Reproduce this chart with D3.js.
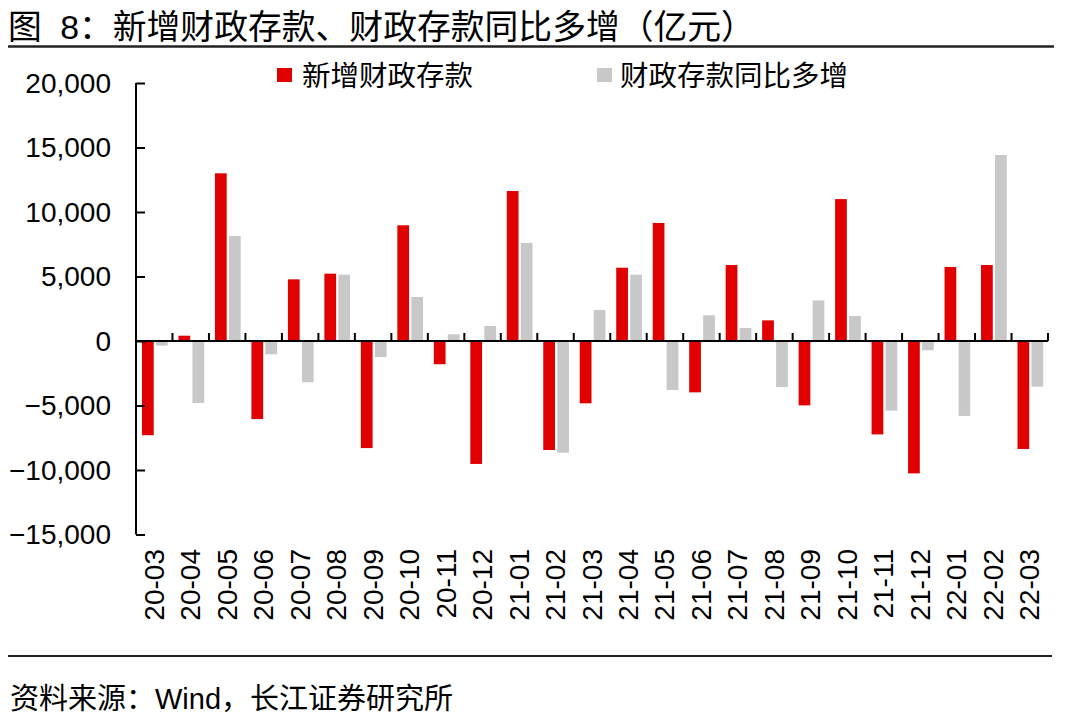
<!DOCTYPE html>
<html><head><meta charset="utf-8">
<script src="https://cdn.jsdelivr.net/npm/d3@7/dist/d3.min.js"></script>
<style>
html,body{margin:0;padding:0;background:#fff;}
svg{display:block;}
text{font-family:"Liberation Sans","Noto Sans CJK SC",sans-serif;fill:#000;}
</style></head>
<body>
<svg id="chart" width="1066" height="728"></svg>
<script>
const categories = ["20-03","20-04","20-05","20-06","20-07","20-08","20-09","20-10","20-11","20-12",
  "21-01","21-02","21-03","21-04","21-05","21-06","21-07","21-08","21-09","21-10","21-11","21-12",
  "22-01","22-02","22-03"];
const newFiscalDeposits = [-7300,410,13000,-6050,4780,5220,-8300,8970,-1800,-9530,
  11630,-8450,-4830,5680,9150,-3980,5890,1600,-4990,11000,-7240,-10260,
  5740,5890,-8370];
const yoyIncrease = [-360,-4800,8140,-1030,-3200,5140,-1240,3410,520,1160,
  7600,-8660,2400,5140,-3800,1990,1010,-3570,3150,1940,-5400,-720,
  -5810,14420,-3540];
const seriesNames = ["新增财政存款","财政存款同比多增"];
const yTicks = [20000,15000,10000,5000,0,-5000,-10000,-15000];
const titleText = "图 8：新增财政存款、财政存款同比多增（亿元）";
const sourceText = "资料来源：Wind，长江证券研究所";

const colors = ["#e00000","#c8c8c8"];
const svg = d3.select("#chart");

const pLeft = 136, pRight = 1048, pTop = 83, pBottom = 534.5;
const x = d3.scaleBand().domain(categories).range([pLeft, pRight]).paddingInner(0).paddingOuter(0);
const xs = d3.scaleBand().domain(seriesNames)
  .range([x.bandwidth()*0.164, x.bandwidth()*0.869]).paddingInner(0.16);
const y = d3.scaleLinear().domain([-15000, 20000]).range([pBottom, pTop]);

// title
const t = svg.append("text").attr("x", 8).attr("y", 39)
  .style("font-size","33.8px").style("white-space","pre");
t.append("tspan").text("图");
t.append("tspan").attr("dx", 9).text(titleText.slice(1));
svg.append("line").attr("x1",8).attr("x2",1054).attr("y1",46.5).attr("y2",46.5)
  .attr("stroke","#222").attr("stroke-width",2.5);

// bars
const data = categories.map((c,i)=>({c, vals:[newFiscalDeposits[i], yoyIncrease[i]]}));
const g = svg.append("g");
data.forEach(d=>{
  d.vals.forEach((v,j)=>{
    g.append("rect")
      .attr("x", x(d.c) + xs(seriesNames[j]))
      .attr("width", xs.bandwidth())
      .attr("y", y(Math.max(0,v)))
      .attr("height", Math.abs(y(v)-y(0)))
      .attr("fill", colors[j]);
  });
});

// y axis
const yAxis = d3.axisRight(y).tickValues(yTicks).tickSize(9).tickFormat("");
const ya = svg.append("g").attr("transform",`translate(${pLeft},0)`).call(yAxis);
ya.select(".domain").attr("stroke","#000").attr("stroke-width",2).attr("d",`M0,${pTop}V${pBottom}`);
ya.selectAll(".tick line").attr("stroke","#000").attr("stroke-width",2);
svg.append("g").selectAll("text").data(yTicks).join("text")
  .attr("x", 111).attr("y", d=>y(d)).attr("text-anchor","end")
  .attr("dominant-baseline","central").style("font-size","28px")
  .text(d=>d3.format(",")(d));

// x axis at zero
const boundaries = categories.map(c=>x(c)).concat([pRight]);
const xa = svg.append("g");
xa.append("line").attr("x1",pLeft).attr("x2",pRight).attr("y1",y(0)).attr("y2",y(0))
  .attr("stroke","#000").attr("stroke-width",2.2);
xa.selectAll("line.tk").data(boundaries).join("line").attr("class","tk")
  .attr("x1",d=>d).attr("x2",d=>d).attr("y1",y(0)).attr("y2",y(0)-8)
  .attr("stroke","#000").attr("stroke-width",2);
svg.append("g").selectAll("text").data(categories).join("text")
  .attr("transform", d=>`translate(${x(d)+x.bandwidth()/2},549) rotate(-90)`)
  .attr("text-anchor","end").attr("dominant-baseline","central")
  .style("font-size","28px").text(d=>d);

// legend
const legendX = [[277,302],[597,620]];
seriesNames.forEach((n,j)=>{
  svg.append("rect").attr("x",legendX[j][0]).attr("y",68).attr("width",15).attr("height",14).attr("fill",colors[j]);
  svg.append("text").attr("x",legendX[j][1]).attr("y",76).attr("dominant-baseline","central")
    .style("font-size","28.5px").text(n);
});

// bottom line and source
svg.append("line").attr("x1",8).attr("x2",1052).attr("y1",656).attr("y2",656)
  .attr("stroke","#222").attr("stroke-width",2);
svg.append("text").attr("x",10).attr("y",709).style("font-size","29px").text(sourceText);
</script>
</body></html>
